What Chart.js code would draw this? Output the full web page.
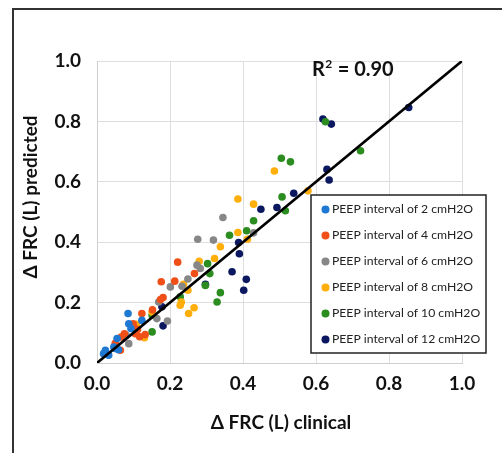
<!DOCTYPE html>
<html>
<head>
<meta charset="utf-8">
<script src="https://cdn.jsdelivr.net/npm/chart.js@4.4.1/dist/chart.umd.min.js"></script>
<style>
  html, body { margin: 0; padding: 0; background: #fff; }
  #wrap { width: 502px; height: 453px; position: relative; }
</style>
</head>
<body>
<div id="wrap"><canvas id="chart"></canvas></div>
<script>
// Data (x = clinical, y = predicted, litres)
const seriesLabels = ['PEEP interval of 2 cmH2O','PEEP interval of 4 cmH2O','PEEP interval of 6 cmH2O',
  'PEEP interval of 8 cmH2O','PEEP interval of 10 cmH2O','PEEP interval of 12 cmH2O'];
const seriesColors = ['#1f78d2','#f04f17','#878787','#ffae0a','#2b8c1f','#0b1860'];

const peep2x = [0.085,0.087,0.023,0.032,0.046,0.055,0.123,0.018,0.059,0.093,0.050];
const peep2y = [0.164,0.130,0.042,0.026,0.053,0.081,0.141,0.031,0.044,0.114,0.048];
const peep4x = [0.221,0.176,0.213,0.267,0.181,0.174,0.123,0.152,0.100,0.132,0.117,0.066,0.050,0.064,0.111,0.075,0.105,0.099];
const peep4y = [0.334,0.269,0.271,0.296,0.217,0.210,0.164,0.176,0.122,0.094,0.087,0.086,0.065,0.042,0.111,0.097,0.097,0.130];
const peep6x = [0.276,0.319,0.345,0.429,0.283,0.274,0.249,0.201,0.193,0.164,0.080,0.087,0.233,0.169];
const peep6y = [0.410,0.407,0.482,0.431,0.313,0.324,0.278,0.252,0.139,0.147,0.092,0.064,0.254,0.202];
const peep8x = [0.486,0.386,0.429,0.386,0.412,0.338,0.322,0.280,0.237,0.249,0.228,0.251,0.266,0.578,0.130,0.108,0.151,0.231];
const peep8y = [0.636,0.543,0.526,0.432,0.410,0.385,0.346,0.337,0.261,0.241,0.191,0.164,0.183,0.570,0.084,0.128,0.169,0.202];
const peep10x = [0.505,0.530,0.722,0.626,0.507,0.516,0.429,0.410,0.363,0.303,0.309,0.338,0.329,0.228,0.297,0.151,0.151];
const peep10y = [0.678,0.666,0.703,0.799,0.550,0.504,0.471,0.438,0.423,0.329,0.296,0.233,0.202,0.219,0.257,0.158,0.103];
const peep12x = [0.619,0.642,0.854,0.630,0.636,0.539,0.493,0.449,0.388,0.390,0.370,0.409,0.402,0.297,0.181,0.178];
const peep12y = [0.808,0.791,0.846,0.641,0.606,0.562,0.515,0.509,0.399,0.362,0.302,0.277,0.241,0.261,0.123,0.186];

const identityX = [0, 1];
const identityY = [0, 1];
const r2Text = '0.90';
const xTitle = 'Δ FRC (L) clinical';
const yTitle = 'Δ FRC (L) predicted';

const allX = [peep2x, peep4x, peep6x, peep8x, peep10x, peep12x];
const allY = [peep2y, peep4y, peep6y, peep8y, peep10y, peep12y];

function pts(xs, ys){ return xs.map((x,i)=>({x, y: ys[i]})); }

const datasets = seriesLabels.map((lab,i)=>({
  type: 'scatter', label: lab, data: pts(allX[i], allY[i]),
  backgroundColor: seriesColors[i], borderColor: seriesColors[i],
  pointRadius: 3.8, borderWidth: 0, order: 1
}));
datasets.push({
  type: 'line', label: 'identity', data: pts(identityX, identityY),
  borderColor: '#000', borderWidth: 2.6, pointRadius: 0, fill: false, order: 0
});

const FONT = 'Lato, "Open Sans", sans-serif';

// frame, titles, R2 and legend box
const extras = {
  id: 'extras',
  afterDraw(chart){
    const c = chart.ctx;
    c.save();
    // partial frame (top + left edge)
    c.strokeStyle = '#333'; c.lineWidth = 2;
    c.beginPath(); c.moveTo(13, 453); c.lineTo(13, 9); c.lineTo(502, 9); c.stroke();

    c.fillStyle = '#111';
    c.font = 'bold 19px ' + FONT;
    c.textAlign = 'center'; c.textBaseline = 'middle';
    c.fillText(xTitle, 281, 423);
    c.save(); c.translate(31, 197); c.rotate(-Math.PI/2); c.fillText(yTitle, 0, 0); c.restore();

    // R2 label
    c.textAlign = 'left'; c.textBaseline = 'alphabetic';
    c.font = 'bold 20px ' + FONT;
    c.fillText('R', 312, 76);
    let w = c.measureText('R').width;
    c.font = 'bold 12px ' + FONT;
    c.fillText('2', 312 + w + 0.5, 68);
    let w2 = c.measureText('2').width;
    c.font = 'bold 20px ' + FONT;
    c.fillText(' = ' + r2Text, 312 + w + w2 + 1, 76);

    // legend
    const lx = 311, ly = 195, lw = 175, lh = 158;
    c.fillStyle = '#fff'; c.fillRect(lx, ly, lw, lh);
    c.strokeStyle = '#222'; c.lineWidth = 1.5; c.strokeRect(lx, ly, lw, lh);
    c.font = '12.2px ' + FONT; c.textBaseline = 'middle';
    seriesLabels.forEach((lab,i)=>{
      const y = 209.5 + i*26;
      c.fillStyle = seriesColors[i];
      c.beginPath(); c.arc(325.5, y, 4, 0, Math.PI*2); c.fill();
      c.fillStyle = '#222';
      c.fillText(lab, 332, y);
    });
    c.restore();
  }
};

new Chart(document.getElementById('chart'), {
  data: { datasets },
  options: {
    responsive: true, maintainAspectRatio: false, animation: false,
    layout: { padding: { left: 0, top: 61, right: 40, bottom: 0 } },
    plugins: { legend: { display: false }, tooltip: { enabled: false } },
    scales: {
      x: {
        type: 'linear', min: 0, max: 1,
        ticks: { stepSize: 0.2, color: '#111', padding: 9, font: { family: FONT, size: 19, weight: 'bold' },
          callback: v => v.toFixed(1) },
        grid: { color: '#dedede', drawTicks: false },
        border: { color: '#cfcfcf' },
        afterFit(s){ s.height = 90; }
      },
      y: {
        type: 'linear', min: 0, max: 1,
        ticks: { stepSize: 0.2, color: '#111', padding: 16, font: { family: FONT, size: 19, weight: 'bold' },
          callback: v => v.toFixed(1) },
        grid: { color: '#dedede', drawTicks: false },
        border: { color: '#cfcfcf' },
        afterFit(s){ s.width = 97; }
      }
    }
  },
  plugins: [extras]
});
</script>
</body>
</html>
